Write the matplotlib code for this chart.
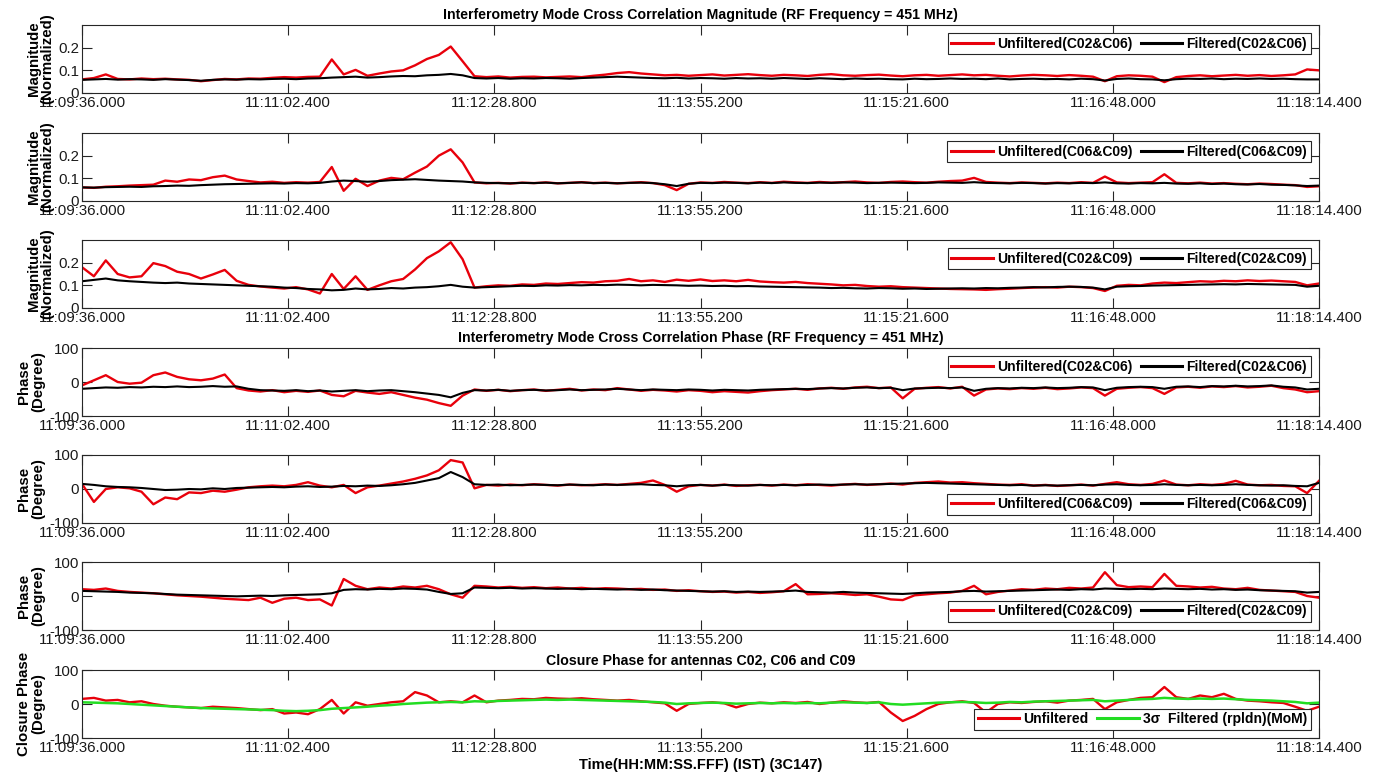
import numpy as np
import matplotlib
matplotlib.use('Agg')
import matplotlib.pyplot as plt

plt.rcParams['font.family'] = ['Liberation Sans', 'DejaVu Sans']
plt.rcParams['axes.linewidth'] = 0.8

# time axis: seconds from 11:09:36.000, one sample every ~5 s
n_pts = 105
t_end = 518.4
tick_labels = ['11:09:36.000', '11:11:02.400', '11:12:28.800',
               '11:13:55.200', '11:15:21.600', '11:16:48.000', '11:18:14.400']

mag_c02_c06_unf = [
    0.060, 0.066, 0.082, 0.062, 0.060, 0.064, 0.061, 0.063, 0.060, 0.058, 0.052, 0.057, 0.062, 0.060, 0.064,
    0.063, 0.067, 0.070, 0.068, 0.071, 0.072, 0.148, 0.082, 0.102, 0.076, 0.086, 0.095, 0.100, 0.122, 0.150,
    0.168, 0.205, 0.140, 0.074, 0.070, 0.073, 0.068, 0.071, 0.072, 0.069, 0.071, 0.073, 0.070, 0.076, 0.081,
    0.088, 0.092, 0.086, 0.082, 0.078, 0.080, 0.076, 0.079, 0.082, 0.077, 0.080, 0.083, 0.079, 0.076, 0.080,
    0.078, 0.075, 0.080, 0.083, 0.078, 0.076, 0.079, 0.081, 0.077, 0.074, 0.078, 0.080, 0.076, 0.079, 0.082,
    0.078, 0.080, 0.076, 0.073, 0.077, 0.080, 0.078, 0.075, 0.079, 0.076, 0.072, 0.052, 0.074, 0.078, 0.076,
    0.072, 0.048, 0.070, 0.075, 0.078, 0.074, 0.077, 0.080, 0.076, 0.079, 0.075, 0.078, 0.082, 0.104, 0.100]
mag_c02_c06_flt = [
    0.058, 0.060, 0.062, 0.059, 0.061, 0.060, 0.058, 0.061, 0.059, 0.057, 0.054, 0.058, 0.060, 0.059, 0.061,
    0.060, 0.062, 0.063, 0.061, 0.064, 0.065, 0.068, 0.070, 0.072, 0.068, 0.070, 0.073, 0.075, 0.074, 0.078,
    0.080, 0.084, 0.078, 0.066, 0.064, 0.066, 0.063, 0.065, 0.064, 0.066, 0.065, 0.063, 0.066, 0.068, 0.070,
    0.072, 0.070, 0.068, 0.066, 0.065, 0.067, 0.064, 0.066, 0.065, 0.063, 0.066, 0.064, 0.065, 0.063, 0.066,
    0.064, 0.062, 0.065, 0.063, 0.061, 0.064, 0.062, 0.063, 0.061, 0.060, 0.063, 0.061, 0.062, 0.064, 0.062,
    0.063, 0.061, 0.064, 0.060, 0.062, 0.063, 0.061, 0.062, 0.060, 0.063, 0.061, 0.055, 0.062, 0.064, 0.061,
    0.060, 0.056, 0.061, 0.063, 0.062, 0.064, 0.061, 0.063, 0.062, 0.064, 0.062, 0.063, 0.061, 0.060, 0.060]

mag_c06_c09_unf = [
    0.060, 0.058, 0.063, 0.065, 0.068, 0.070, 0.072, 0.090, 0.085, 0.095, 0.092, 0.105, 0.112, 0.095, 0.088,
    0.082, 0.085, 0.080, 0.083, 0.081, 0.084, 0.150, 0.045, 0.098, 0.066, 0.090, 0.102, 0.096, 0.125, 0.152,
    0.200, 0.228, 0.170, 0.082, 0.078, 0.080, 0.077, 0.081, 0.079, 0.082, 0.078, 0.080, 0.083, 0.079, 0.081,
    0.078, 0.080, 0.083, 0.079, 0.070, 0.048, 0.076, 0.082, 0.080, 0.084, 0.081, 0.079, 0.083, 0.080, 0.085,
    0.082, 0.080, 0.084, 0.081, 0.083, 0.086, 0.082, 0.080, 0.084, 0.086, 0.083, 0.081, 0.085, 0.088, 0.090,
    0.102, 0.084, 0.081, 0.079, 0.082, 0.080, 0.078, 0.081, 0.079, 0.083, 0.080, 0.108, 0.082, 0.079, 0.081,
    0.083, 0.118, 0.080, 0.078, 0.081, 0.077, 0.079, 0.076, 0.074, 0.077, 0.075, 0.072, 0.070, 0.062, 0.065]
mag_c06_c09_flt = [
    0.060, 0.059, 0.061, 0.062, 0.063, 0.062, 0.065, 0.066, 0.068, 0.067, 0.070, 0.072, 0.074, 0.075, 0.076,
    0.077, 0.078, 0.077, 0.079, 0.078, 0.080, 0.086, 0.090, 0.088, 0.085, 0.088, 0.092, 0.094, 0.096, 0.093,
    0.090, 0.088, 0.086, 0.082, 0.080, 0.079, 0.078, 0.080, 0.079, 0.081, 0.078, 0.080, 0.082, 0.079, 0.080,
    0.078, 0.080, 0.081, 0.079, 0.074, 0.066, 0.076, 0.080, 0.079, 0.081, 0.080, 0.078, 0.081, 0.079, 0.082,
    0.080, 0.079, 0.081, 0.080, 0.082, 0.081, 0.079, 0.080, 0.081, 0.080, 0.079, 0.080, 0.082, 0.081, 0.080,
    0.083, 0.080, 0.079, 0.078, 0.080, 0.079, 0.077, 0.079, 0.078, 0.080, 0.079, 0.082, 0.078, 0.077, 0.079,
    0.078, 0.080, 0.077, 0.076, 0.078, 0.075, 0.077, 0.074, 0.073, 0.075, 0.072, 0.071, 0.069, 0.066, 0.068]

mag_c02_c09_unf = [
    0.180, 0.140, 0.210, 0.150, 0.135, 0.140, 0.198, 0.185, 0.160, 0.150, 0.130, 0.148, 0.168, 0.120, 0.102,
    0.095, 0.090, 0.086, 0.092, 0.082, 0.064, 0.150, 0.084, 0.140, 0.080, 0.100, 0.118, 0.128, 0.170, 0.220,
    0.250, 0.290, 0.215, 0.090, 0.096, 0.100, 0.098, 0.104, 0.102, 0.108, 0.106, 0.110, 0.114, 0.112, 0.118,
    0.120, 0.128, 0.118, 0.122, 0.115, 0.125, 0.120, 0.126, 0.119, 0.122, 0.118, 0.124, 0.117, 0.114, 0.112,
    0.115, 0.110, 0.107, 0.104, 0.100, 0.102, 0.097, 0.094, 0.096, 0.092, 0.090, 0.088, 0.086, 0.084, 0.083,
    0.082, 0.080, 0.083, 0.085, 0.088, 0.090, 0.092, 0.090, 0.094, 0.092, 0.088, 0.075, 0.098, 0.102, 0.100,
    0.108, 0.112, 0.110, 0.114, 0.118, 0.116, 0.120, 0.118, 0.122, 0.119, 0.121, 0.118, 0.115, 0.100, 0.108]
mag_c02_c09_flt = [
    0.118, 0.124, 0.130, 0.122, 0.118, 0.115, 0.112, 0.110, 0.112, 0.108, 0.106, 0.104, 0.102, 0.100, 0.098,
    0.096, 0.094, 0.090, 0.088, 0.084, 0.082, 0.078, 0.080, 0.086, 0.082, 0.084, 0.088, 0.086, 0.090, 0.092,
    0.096, 0.102, 0.094, 0.090, 0.092, 0.094, 0.096, 0.098, 0.097, 0.100, 0.099, 0.101, 0.100, 0.102, 0.101,
    0.103, 0.102, 0.100, 0.102, 0.101, 0.100, 0.098, 0.099, 0.097, 0.098, 0.096, 0.097, 0.095, 0.094, 0.093,
    0.092, 0.091, 0.090, 0.088, 0.089, 0.087, 0.086, 0.088, 0.087, 0.085, 0.086, 0.084, 0.085, 0.086, 0.087,
    0.086, 0.088, 0.087, 0.089, 0.090, 0.092, 0.091, 0.093, 0.094, 0.093, 0.090, 0.082, 0.094, 0.096, 0.097,
    0.099, 0.100, 0.101, 0.102, 0.103, 0.104, 0.105, 0.104, 0.106, 0.105, 0.104, 0.103, 0.102, 0.094, 0.098]

ph_c02_c06_unf = [
    -10, 5, 20, 0, -5, -2, 20, 28, 15, 8, 5, 10, 22, -18, -25,
    -28, -24, -30, -26, -29, -25, -38, -42, -26, -31, -35, -30, -38, -46, -52,
    -62, -70, -40, -22, -26, -23, -27, -24, -22, -26, -23, -20, -25, -22, -24,
    -18, -22, -26, -23, -25, -28, -24, -26, -30, -27, -29, -31, -27, -24, -22,
    -20, -23, -19, -17, -20, -16, -14, -18, -16, -48, -20, -17, -15, -19, -14,
    -40, -22, -19, -21, -18, -20, -17, -21, -19, -16, -18, -40, -20, -17, -15,
    -18, -35, -16, -14, -17, -13, -15, -12, -16, -14, -11, -18, -22, -30, -27]
ph_c02_c06_flt = [
    -20, -18, -16, -17, -15, -16, -14, -15, -13, -15, -14, -12, -14, -13, -20,
    -24, -25, -26, -24, -27, -25, -28, -26, -24, -27, -25, -24, -27, -30, -34,
    -38, -45, -32, -24, -25, -23, -26, -24, -23, -25, -24, -22, -24, -23, -22,
    -20, -22, -24, -22, -23, -24, -22, -23, -25, -23, -24, -25, -23, -22, -21,
    -20, -21, -19, -18, -19, -17, -16, -18, -17, -24, -19, -18, -17, -18, -16,
    -26, -20, -18, -19, -17, -18, -16, -18, -17, -15, -16, -24, -17, -15, -14,
    -15, -20, -14, -13, -15, -12, -13, -11, -13, -12, -10, -14, -16, -22, -20]

ph_c06_c09_unf = [
    15, -38, 0, 5, 2, -8, -45, -25, -30, -10, -12, -5, -8, -2, 5,
    8, 10, 8, 12, 20, 10, 5, 12, -12, 5, 10, 16, 22, 30, 40,
    55, 85, 78, 2, 12, 10, 13, 11, 14, 12, 10, 13, 11, 12, 14,
    12, 15, 18, 25, 12, -8, 8, 12, 10, 13, 9, 11, 12, 10, 13,
    11, 14, 12, 10, 13, 15, 12, 14, 16, 13, 18, 20, 22, 19, 20,
    17, 15, 13, 12, 14, 10, 12, 9, 11, 13, 10, 15, 20, 14, 12,
    15, 25, 13, 11, 14, 12, 15, 24, 13, 11, 12, 9, 8, -12, 24]
ph_c06_c09_flt = [
    15, 12, 8, 6, 5, 3, 0, -3, -2, 0, -1, 2, 0, 3, 4,
    5, 6, 5, 7, 8, 6, 7, 9, 8, 10, 9, 11, 14, 18, 25,
    32, 50, 35, 14, 12, 13, 11, 12, 13, 12, 11, 13, 12, 11, 13,
    12, 13, 14, 12, 11, 8, 11, 12, 10, 12, 11, 10, 12, 11, 12,
    11, 12, 13, 12, 13, 14, 13, 14, 15, 16, 17, 18, 17, 16, 15,
    14, 13, 12, 11, 12, 10, 11, 10, 11, 12, 11, 13, 14, 12, 11,
    12, 14, 12, 11, 12, 11, 12, 14, 12, 11, 10, 11, 9, 8, 18]

ph_c02_c09_unf = [
    20, 18, 22, 15, 12, 10, 8, 5, 2, 0, -2, -5, -8, -10, -12,
    -5, -20, -8, -5, -12, -10, -28, 50, 30, 20, 25, 22, 28, 25, 30,
    20, 5, -5, 30, 28, 25, 27, 24, 26, 23, 25, 22, 24, 21, 23,
    22, 20, 21, 18, 19, 15, 17, 14, 12, 13, 10, 12, 9, 11, 14,
    35, 5, 6, 8, 6, 3, 5, -2, -10, -12, 2, 5, 8, 10, 15,
    30, 5, 12, 16, 20, 18, 22, 20, 24, 22, 25, 70, 32, 26, 28,
    26, 65, 30, 28, 25, 27, 22, 20, 24, 18, 16, 14, 12, 0, -5]
ph_c02_c09_flt = [
    15, 14, 13, 12, 10, 9, 8, 6, 4, 3, 2, 1, 0, -1, 0,
    1, 0, 2, 3, 4, 5, 8, 18, 20, 19, 21, 20, 22, 21, 19,
    12, 6, 8, 25, 24, 23, 24, 22, 23, 22, 21, 22, 20, 21, 20,
    19, 20, 18, 19, 17, 16, 15, 14, 13, 14, 12, 13, 12, 13, 14,
    16, 12, 11, 10, 12, 10, 9, 8, 7, 6, 8, 10, 11, 12, 14,
    15, 13, 14, 15, 16, 17, 18, 19, 18, 20, 19, 22, 21, 20, 21,
    20, 22, 21, 20, 21, 19, 20, 18, 19, 17, 16, 15, 14, 10, 12]

closure_unf = [
    15, 18, 10, 12, 5, 8, 0, -5, -8, -10, -12, -8, -10, -12, -15,
    -18, -15, -28, -25, -30, -15, 12, -28, 5, -5, 0, 5, 8, 35, 25,
    5, 8, 5, 25, 5, 10, 12, 15, 14, 18, 16, 15, 17, 14, 12,
    10, 12, 8, 5, 2, -20, 0, 3, 5, 2, -10, 0, 4, 2, 5,
    3, 6, 0, 4, 8, 5, 3, 6, -25, -50, -35, -15, 0, 5, 8,
    3, -25, 0, 5, 3, 6, 8, 4, 10, 12, 15, -15, 5, 12, 18,
    20, 50, 20, 15, 25, 20, 30, 15, 10, 8, 5, 3, -8, -20, -8]
closure_flt = [
    5, 4, 3, 2, 0, -2, -4, -6, -8, -10, -12, -13, -14, -15, -16,
    -17, -18, -20, -21, -20, -18, -14, -12, -10, -8, -5, -3, 0, 2, 4,
    5, 6, 5, 8, 7, 9, 10, 11, 12, 13, 12, 13, 12, 11, 10,
    9, 8, 7, 6, 4, 0, 2, 3, 4, 3, 1, 2, 3, 2, 3,
    2, 3, 2, 4, 5, 4, 3, 5, 0, -2, 0, 2, 4, 5, 6,
    5, 3, 4, 6, 5, 7, 8, 9, 10, 11, 12, 8, 10, 12, 14,
    15, 18, 16, 15, 16, 15, 16, 14, 12, 11, 10, 8, 6, 2, 4]

t = np.linspace(0, t_end, n_pts)
tick_pos = np.linspace(0, t_end, len(tick_labels))

panels = [
    (mag_c02_c06_unf, mag_c02_c06_flt, 'C02&C06', 'mag', 'upper right'),
    (mag_c06_c09_unf, mag_c06_c09_flt, 'C06&C09', 'mag', 'upper right'),
    (mag_c02_c09_unf, mag_c02_c09_flt, 'C02&C09', 'mag', 'upper right'),
    (ph_c02_c06_unf, ph_c02_c06_flt, 'C02&C06', 'phase', 'upper right'),
    (ph_c06_c09_unf, ph_c06_c09_flt, 'C06&C09', 'phase', 'lower right'),
    (ph_c02_c09_unf, ph_c02_c09_flt, 'C02&C09', 'phase', 'lower right'),
    (closure_unf, closure_flt, None, 'closure', 'lower right'),
]

W, H = 1376, 776
fig = plt.figure(figsize=(W / 100, H / 100), dpi=100)
tops = [25, 133, 240, 348, 455, 562, 670]
ax_h = 68
left_px, right_px = 82, 1319
edge = '#262626'

axes = []
for k, (unf, flt, pair, kind, loc) in enumerate(panels):
    ax = fig.add_axes([left_px / W, 1 - (tops[k] + ax_h) / H,
                       (right_px - left_px) / W, ax_h / H])
    axes.append(ax)
    if kind == 'closure':
        ax.plot(t, unf, color='#e8000b', lw=1.7, label='Unfiltered')
        ax.plot(t, flt, color='#22dd22', lw=1.8, label='3\u03c3  Filtered (rpldn)(MoM)')
    else:
        ax.plot(t, unf, color='#e8000b', lw=1.7, label='Unfiltered(%s)' % pair)
        ax.plot(t, flt, color='black', lw=1.5, label='Filtered(%s)' % pair)

    ax.set_xlim(0, t_end)
    ax.set_xticks(tick_pos)
    ax.set_xticklabels(tick_labels)
    if kind == 'mag':
        ax.set_ylim(0, 0.3)
        ax.set_yticks([0, 0.1, 0.2])
        ax.set_yticklabels(['0', '0.1', '0.2'])
        lab = 'Magnitude\n(Normalized)'
    else:
        ax.set_ylim(-100, 100)
        ax.set_yticks([-100, 0, 100])
        ax.set_yticklabels(['-100', '0', '100'])
        lab = 'Closure Phase\n(Degree)' if kind == 'closure' else 'Phase\n(Degree)'
    ax.set_ylabel(lab, fontweight='bold', fontsize=10.8, labelpad=3, linespacing=0.95)

    ax.tick_params(direction='in', length=7, width=0.8, top=True, right=True,
                   labelsize=10.8, colors=edge, labelcolor='#1a1a1a', pad=2)
    for sp in ax.spines.values():
        sp.set_color(edge)

    leg = ax.legend(loc=loc, ncol=2, prop={'size': 10, 'weight': 'bold'},
                    frameon=True, fancybox=False, framealpha=1, edgecolor=edge,
                    handlelength=3.0, handletextpad=0.3, columnspacing=0.6,
                    borderpad=0.25, borderaxespad=0.6)
    leg.get_frame().set_linewidth(0.8)
    for h in leg.get_lines():
        h.set_linewidth(2.2)

title_kw = dict(fontsize=10.2, fontweight='bold', pad=4)
axes[0].set_title('Interferometry Mode Cross Correlation Magnitude (RF Frequency = 451 MHz)', **title_kw)
axes[3].set_title('Interferometry Mode Cross Correlation Phase (RF Frequency = 451 MHz)', **title_kw)
axes[6].set_title('Closure Phase for antennas C02, C06 and C09', **title_kw)
axes[6].set_xlabel('Time(HH:MM:SS.FFF) (IST) (3C147)', fontsize=10.5, fontweight='bold', labelpad=2)

fig.savefig('out.png', dpi=100)
